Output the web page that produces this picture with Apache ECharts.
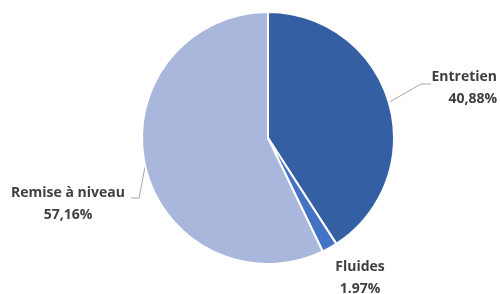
<!DOCTYPE html>
<html>
<head>
<meta charset="utf-8">
<script src="https://cdn.jsdelivr.net/npm/echarts@6/dist/echarts.min.js"></script>
<style>
  html, body { margin: 0; padding: 0; background: #fff; }
  #chart { width: 500px; height: 294px; }
</style>
</head>
<body>
<div id="chart"></div>
<script>
const categories = ['Entretien', 'Fluides', 'Remise à niveau']
const shares = [40.88, 1.97, 57.16]
const shareLabels = ['40,88%', '1.97%', '57,16%']
const colors = ['#355fa3', '#4472c4', '#a9b7dc']

const chart = echarts.init(document.getElementById('chart'))

// label spots, per slice
const labelSpots = [
  { x: 497, y: 88, align: 'right', line: [[431, 84], [421, 84]] },
  { x: 360, y: 278, align: 'center', line: null },
  { x: 68, y: 204, align: 'center', line: [[131, 198], [139, 198]] },
]

chart.setOption({
  animation: false,
  series: [
    {
      type: 'pie',
      center: [268, 138],
      radius: 126,
      startAngle: 90,
      clockwise: true,
      itemStyle: { borderColor: '#fff', borderWidth: 2 },
      label: {
        show: true,
        formatter: (p) => `${p.name}\n${shareLabels[p.dataIndex]}`,
        fontFamily: 'Open Sans',
        fontWeight: 'bold',
        fontSize: 14,
        lineHeight: 22,
        color: '#404040',
        overflow: 'none',
        width: 200,
      },
      labelLine: {
        show: true,
        lineStyle: { color: '#a6a6a6', width: 1 },
      },
      labelLayout: (params) => {
        const spot = labelSpots[params.dataIndex]
        const res = { x: spot.x, y: spot.y, align: spot.align, verticalAlign: 'middle' }
        if (spot.line) {
          const pts = params.labelLinePoints
          const start = pts ? pts[0] : spot.line[1]
          res.labelLinePoints = [start, spot.line[1], spot.line[0]]
        }
        return res
      },
      data: categories.map((name, i) => ({
        name,
        value: shares[i],
        itemStyle: { color: colors[i] },
        labelLine: { show: !!labelSpots[i].line },
      })),
    },
  ],
})
</script>
</body>
</html>
